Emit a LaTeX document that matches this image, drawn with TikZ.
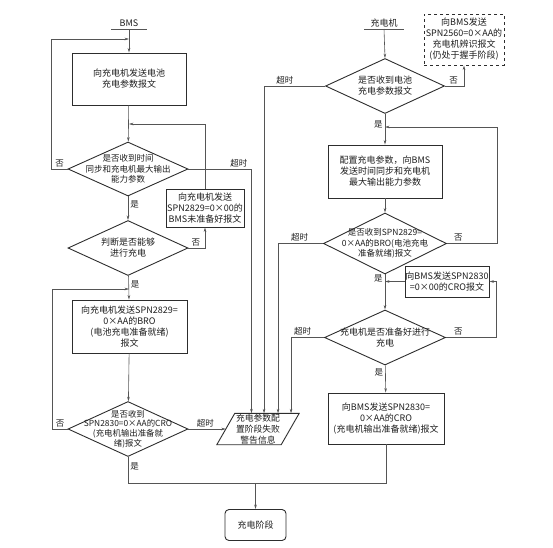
\documentclass[tikz,border=0pt]{standalone}
\usepackage{fontspec}
\setmainfont{Noto Sans CJK SC}
\usetikzlibrary{arrows.meta, shapes.geometric}
\definecolor{boxline}{RGB}{45,45,45}
\definecolor{wire}{RGB}{85,85,85}
\definecolor{inktext}{RGB}{30,30,30}
\newcommand{\cjkfs}{\fontsize{8.5}{10.5}\selectfont}
\newcommand{\boxfs}{\fontsize{9}{11}\selectfont}
\tikzset{
  procbox/.style={rectangle, draw=boxline, line width=0.9pt, inner sep=0pt,
                  align=center, font=\boxfs, text=inktext},
  dashbox/.style={procbox, dashed},
  endbox/.style={procbox, rounded corners=4pt},
  decide/.style={diamond, draw=boxline, line width=0.9pt, inner sep=0pt},
  holder/.style={rectangle, inner sep=0pt},
  outline/.style={draw=boxline, line width=0.9pt},
  txt/.style={align=center, font=\cjkfs, text=inktext, inner sep=0pt},
  head/.style={font=\boxfs, text=inktext, inner sep=2pt},
  lbl/.style={font=\cjkfs, text=inktext, inner sep=2pt},
  arr/.style={-{Stealth[length=4.5pt, width=2.6pt]}, draw=wire, line width=0.6pt},
  ln/.style={draw=wire, line width=0.6pt}
}

\begin{document}
\begin{tikzpicture}[x=1pt, y=-1pt]
\useasboundingbox (0,0) rectangle (553,547);
% BMS side
\node[head, anchor=south] (bms) at (129,29) {BMS};
\node[procbox, minimum width=114pt, minimum height=52pt] (sendBCP) at (129,79) {向充电机发送电池\\充电参数报文};
\node[decide, minimum width=120pt, minimum height=54pt] (askCML) at (128,169) {};
\node[txt] (askCMLt) at (askCML) {是否收到时间\\同步和充电机最大输出\\能力参数};
\node[procbox, minimum width=78pt, minimum height=38pt] (broNo) at (205,208) {向充电机发送\\SPN2829=0×00的\\BMS未准备好报文};
\node[decide, minimum width=120pt, minimum height=55pt] (canChg) at (128,248) {};
\node[txt, font=\boxfs] (canChgt) at (canChg) {判断是否能够\\进行充电};
\node[procbox, minimum width=115pt, minimum height=53pt] (broYes) at (129.5,326.5) {向充电机发送SPN2829=\\0×AA的BRO\\(电池充电准备就绪)\\报文};
\node[decide, minimum width=120pt, minimum height=55pt] (askCRO) at (128,429) {};
\node[txt, font=\fontsize{8.4}{9.6}\selectfont] (askCROt) at (askCRO) {是否收到\\SPN2830=0×AA的CRO\\(充电机输出准备就\\绪)报文};
\node[holder, minimum width=64pt, minimum height=31pt] (fail) at (258,429) {};
\draw[outline] ([xshift=9pt]fail.north west) -- ([xshift=9pt]fail.north east)
  -- ([xshift=-9pt]fail.south east) -- ([xshift=-9pt]fail.south west) -- cycle;
\node[txt, font=\fontsize{8.8}{10.8}\selectfont] (failt) at (fail) {充电参数配\\置阶段失败\\警告信息};
\node[endbox, minimum width=61pt, minimum height=31pt] (charge) at (255.5,525) {充电阶段};
% charger side
\node[head, anchor=south] (chg) at (384,29) {充电机};
\node[decide, minimum width=119pt, minimum height=55pt] (askBCP) at (385,86) {};
\node[txt, font=\boxfs] (askBCPt) at (askBCP) {是否收到电池\\充电参数报文};
\node[dashbox, minimum width=80pt, minimum height=51pt] (crm) at (464,39.5) {向BMS发送\\SPN2560=0×AA的\\充电机辨识报文\\(仍处于握手阶段)};
\node[procbox, minimum width=114pt, minimum height=53pt] (sendCML) at (385,171.5) {配置充电参数，向BMS\\发送时间同步和充电机\\最大输出能力参数};
\node[decide, minimum width=123pt, minimum height=61pt] (askBRO) at (385,243.5) {};
\node[txt] (askBROt) at (askBRO) {是否收到SPN2829=\\0×AA的BRO(电池充电\\准备就绪)报文};
\node[procbox, minimum width=84pt, minimum height=31pt] (croNo) at (447,281.5) {向BMS发送SPN2830\\=0×00的CRO报文};
\node[decide, minimum width=121pt, minimum height=55pt] (ready) at (385,337.5) {};
\node[txt, font=\boxfs] (readyt) at (ready) {充电机是否准备好进行\\充电};
\node[procbox, minimum width=116pt, minimum height=51pt] (croYes) at (386,418.5) {向BMS发送SPN2830=\\0×AA的CRO\\(充电机输出准备就绪)报文};
\coordinate (topIn) at (129,39);
\coordinate (nrIn) at (129,124);
\coordinate (croIn) at (129,289);
\coordinate (bcpIn) at (385,127);
\coordinate (mergeY) at (0,483);
% BMS connectors
\draw[ln] ([xshift=-18pt]bms.south) -- ([xshift=18pt]bms.south);
\draw[arr] (bms.south) -- (sendBCP.north);
\draw[arr] (sendBCP) -- (askCML);
\draw[arr] (askCML.west) -- node[lbl, above] (n1) {否} ++(-16,0) |- (topIn);
\draw[arr] (askCML.east) -- node[lbl, above, pos=0.8] (t1) {超时} ++(63,0) coordinate (tA) -- (tA |- fail.north);
\draw[arr] (askCML) -- node[lbl, right, pos=0.35] (y1) {是} (canChg);
\draw[arr] (canChg.east) -- node[lbl, above, pos=0.45] (n2) {否} (canChg.east -| broNo.south) -- (broNo.south);
\draw[arr] (broNo.north) |- (nrIn);
\draw[arr] (canChg) -- node[lbl, right, pos=0.35] (y2) {是} (broYes);
\draw[arr] (broYes) -- (askCRO);
\draw[arr] (askCRO.west) -- node[lbl, above] (n3) {否} ++(-15,0) |- (croIn);
\draw[arr] (askCRO.east) -- node[lbl, above, pos=0.45] (t2) {超时} (fail.west);
\draw[ln] (askCRO.south) -- node[lbl, right, pos=0.35] (y3) {是} (askCRO.south |- mergeY) -- (croYes.south |- mergeY) -- (croYes.south);
\draw[arr] (charge.north |- mergeY) -- (charge.north);
% charger connectors
\draw[ln] ([xshift=-20pt]chg.south) -- ([xshift=20pt]chg.south);
\draw[arr] (chg.south) -- (askBCP.north);
\draw[arr] (askBCP.west) -- node[lbl, above, pos=0.66] (t3) {超时} ++(-61,0) coordinate (tB) -- (tB |- fail.north);
\draw[arr] (askBCP.east) -- node[lbl, above, pos=0.45] (n4) {否} (askBCP.east -| crm.south) -- (crm.south);
\draw[arr] (askBCP) -- node[lbl, left, pos=0.33] (y4) {是} (sendCML);
\draw[arr] (sendCML) -- (askBRO);
\draw[arr] (askBRO.east) -- node[lbl, above, pos=0.23] (n5) {否} ++(50,0) |- (bcpIn);
\draw[arr] (askBRO.west) -- node[lbl, above, pos=0.52] (t4) {超时} ++(-45,0) coordinate (tC) -- (tC |- fail.north);
\draw[arr] (croNo.west) -- (croNo.west -| askBRO.south);
\draw[arr] (askBRO) -- node[lbl, left, pos=0.12] (y5) {是} (ready);
\draw[arr] (ready.east) -- node[lbl, above, pos=0.25] (n6) {否} ++(50,0) |- (croNo.east);
\draw[arr] (ready.west) -- node[lbl, above, pos=0.65] (t5) {超时} ++(-33,0) coordinate (tD) -- (tD |- fail.north);
\draw[arr] (ready) -- node[lbl, left, pos=0.25] (y6) {是} (croYes);
\end{tikzpicture}
\end{document}
